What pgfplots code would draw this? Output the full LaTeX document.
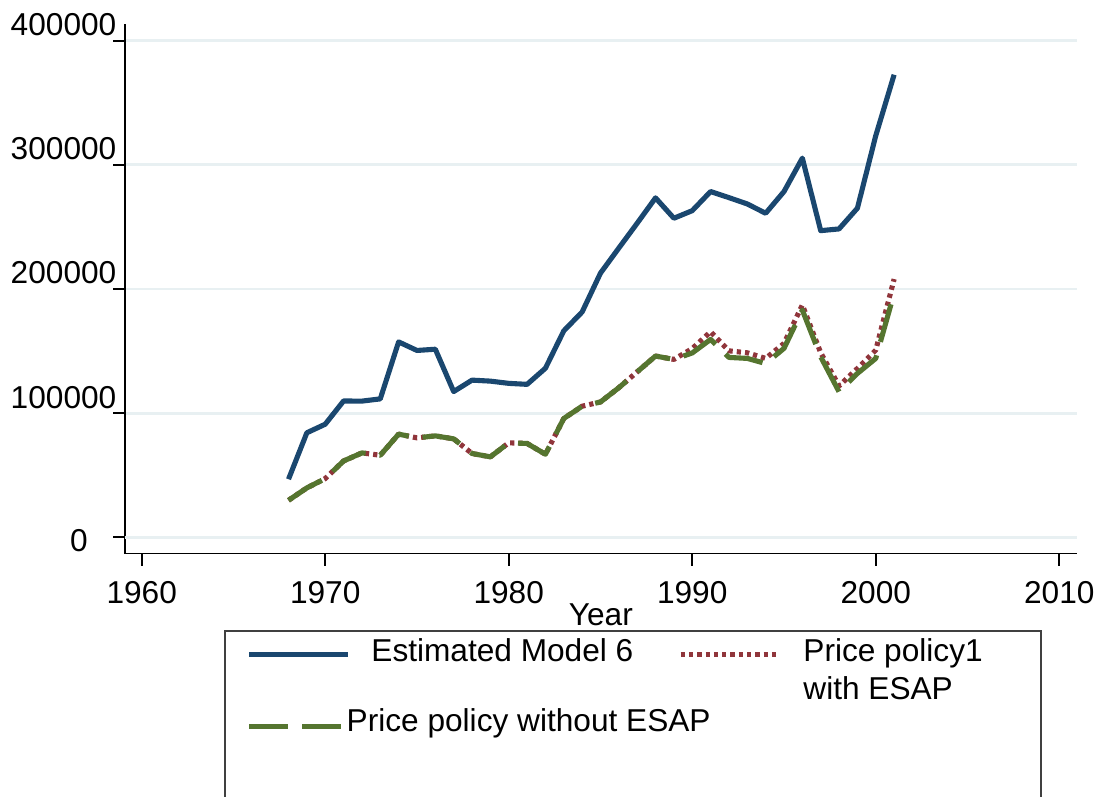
\documentclass[border=0pt]{standalone}
\usepackage{pgfplots}
\usepackage{pgfplotstable}
\pgfplotsset{compat=1.18}
\usepackage{fontspec}
\setmainfont{Liberation Sans}
\definecolor{snavy}{RGB}{26,71,111}
\definecolor{smaroon}{RGB}{144,53,59}
\definecolor{sgreen}{RGB}{85,117,47}
\definecolor{sgrid}{RGB}{232,240,242}
\definecolor{sframe}{RGB}{64,64,64}

\pgfplotstableread{
year value
1968 46800
1969 84200
1970 91100
1971 109800
1972 109700
1973 111500
1974 157400
1975 150500
1976 151500
1977 117400
1978 126600
1979 125800
1980 124000
1981 123200
1982 136200
1983 166300
1984 181500
1985 212800
1986 233000
1987 253000
1988 273400
1989 257000
1990 263100
1991 278500
1992 273600
1993 268500
1994 261000
1995 278500
1996 305400
1997 247000
1998 248400
1999 265100
2000 323500
2001 372600
}\estimated

\pgfplotstableread{
year value
1968 29800
1969 39800
1970 47300
1971 61500
1972 68000
1973 66100
1974 83100
1975 80100
1976 81700
1977 79300
1978 67500
1979 64800
1980 76100
1981 75600
1982 66900
1983 95700
1984 105600
1985 109000
1986 120500
1987 133300
1988 146000
1989 143300
1990 152000
1991 165600
1992 150200
1993 148600
1994 144100
1995 156200
1996 187100
1997 148600
1998 122000
1999 136000
2000 150800
2001 208000
}\withesap

\pgfplotstableread{
year value
1968 29800
1969 39800
1970 47300
1971 61500
1972 68000
1973 66100
1974 83100
1975 80100
1976 81700
1977 79300
1978 67500
1979 64800
1980 76100
1981 75600
1982 66900
1983 95700
1984 105600
1985 109000
1986 120500
1987 133300
1988 146000
1989 143300
1990 148500
1991 159400
1992 144900
1993 144100
1994 140000
1995 152200
1996 183000
1997 145400
1998 117200
1999 132000
2000 144100
2001 196500
}\withoutesap

\begin{document}
\fontsize{9}{11}\selectfont
\begin{tikzpicture}[x=1cm,y=1cm]
\useasboundingbox (0,0) rectangle (11.01,7.96);
\clip (0,0) rectangle (11.01,7.96);
\begin{axis}[
  at={(1.25cm,2.425cm)}, anchor=south west,
  scale only axis, width=9.517cm, height=5.295cm,
  xmin=1959.09, xmax=2010.95,
  ymin=-13050, ymax=413450,
  axis lines=left,
  every outer x axis line/.append style={-},
  every outer y axis line/.append style={-},
  axis line style={-, black, line width=0.55pt},
  scaled y ticks=false, scaled x ticks=false,
  tick align=outside,
  major tick length=0.12cm,
  tick style={black, line width=0.55pt},
  xtick={1960,1970,1980,1990,2000,2010},
  xticklabels={1960,1970,1980,1990,2000,2010},
  ytick={100000,200000,300000,400000},
  yticklabels={100000,200000,300000,400000},
  extra y ticks={0},
  extra y tick labels={0},
  extra y tick style={grid=major, yticklabel style={anchor=south east, xshift=-0.287cm, yshift=-0.197cm}},
  ymajorgrids,
  grid style={sgrid, line width=0.8pt},
  xticklabel style={font=\fontsize{9}{11}\selectfont, anchor=north, inner sep=0pt, yshift=-0.15cm},
  yticklabel style={font=\fontsize{9}{11}\selectfont, anchor=south east, inner sep=0pt, xshift=0.04cm, yshift=0.04cm},
  xlabel={Year},
  xlabel style={font=\fontsize{9}{11}\selectfont, at={(axis description cs:0.5,0)}, anchor=north, inner sep=0pt, yshift=-0.498cm},
  line join=round,
]
\addplot[snavy, line width=1.45pt] table[x=year, y=value] {\estimated};
\addplot[smaroon, line width=1.45pt, dash pattern=on 1.2pt off 1.16pt] table[x=year, y=value] {\withesap};
\addplot[sgreen, line width=1.45pt, dash pattern=on 0.39cm off 0.14cm] table[x=year, y=value] {\withoutesap};
\end{axis}
% legend
\draw[sframe, line width=0.57pt] (2.247,-0.3) rectangle (10.407,1.65);
\draw[snavy, line width=1.45pt] (2.493,1.417) -- (3.483,1.417);
\node[anchor=base west, inner sep=0pt] at (3.707,1.35) {Estimated Model 6};
\draw[smaroon, line width=1.45pt, dash pattern=on 1.2pt off 1.16pt] (6.807,1.417) -- (7.80,1.417);
\node[anchor=base west, inner sep=0pt] at (8.027,1.343) {Price policy1};
\node[anchor=base west, inner sep=0pt] at (8.027,0.97) {with ESAP};
\draw[sgreen, line width=1.45pt, dash pattern=on 0.39cm off 0.14cm] (2.493,0.693) -- (3.427,0.693);
\node[anchor=base west, inner sep=0pt] at (3.46,0.643) {Price policy without ESAP};
\end{tikzpicture}
\end{document}
